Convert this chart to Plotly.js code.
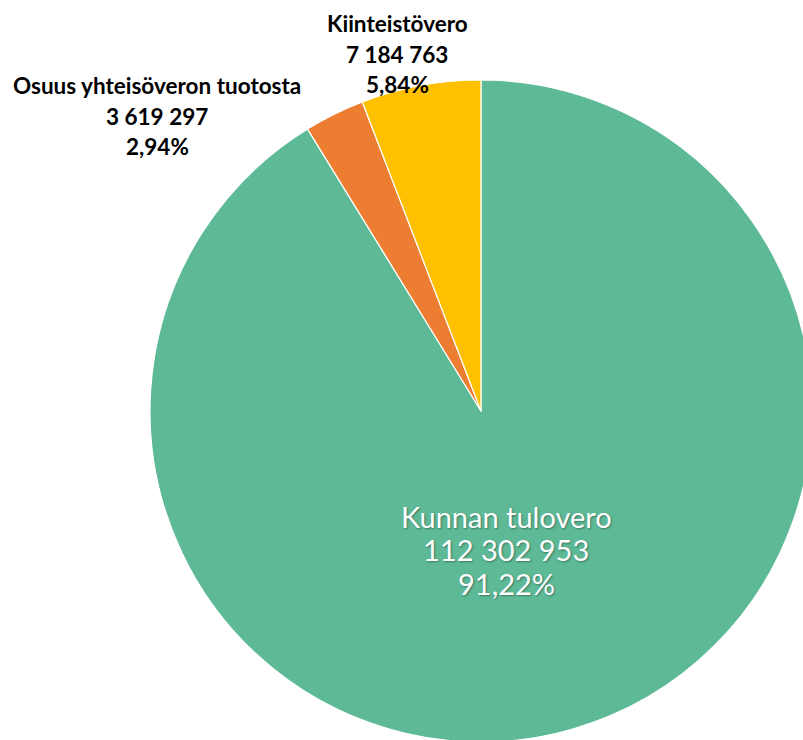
<!DOCTYPE html>
<html>
<head>
<meta charset="utf-8">
<script src="https://cdn.plot.ly/plotly-3.0.1.min.js"></script>
<style>
html,body{margin:0;padding:0;overflow:hidden;background:#fff;width:803px;height:740px;}
#chart{width:962px;height:822px;}
</style>
</head>
<body>
<div id="chart"></div>
<script>
// Data
const categories = ["Kunnan tulovero", "Osuus yhteisöveron tuotosta", "Kiinteistövero"];
const values = [112302953, 3619297, 7184763];
const valueLabels = ["112 302 953", "3 619 297", "7 184 763"];
const percentLabels = ["91,22%", "2,94%", "5,84%"];
const colors = ["#5DB996", "#ED7D31", "#FFC000"];

// Layout geometry (pixels in the plot div)
const W = 962, H = 822;
const cx = 481, cy = 411, r = 331;
// label anchors: [x center, first line y, line spacing]
const labelPos = [
  {x: 506, y: 516, dy: 33.5, color: "#ffffff", size: 29, weight: "normal", shadow: "1px 1px 2px rgba(0,0,0,0.35)"},
  {x: 157, y: 86, dy: 30, color: "#000000", size: 22.5, weight: "bold", shadow: "none"},
  {x: 397, y: 23.5, dy: 30.5, color: "#000000", size: 22.5, weight: "bold", shadow: "none"}
];

const annotations = [];
categories.forEach((c, i) => {
  const lines = [c, valueLabels[i], percentLabels[i]];
  const p = labelPos[i];
  lines.forEach((t, j) => {
    annotations.push({
      xref: "paper", yref: "paper",
      x: p.x / W, y: 1 - (p.y + j * p.dy) / H,
      xanchor: "center", yanchor: "middle",
      text: t, showarrow: false,
      font: {family: "Lato, 'Open Sans', sans-serif", size: p.size, color: p.color, weight: p.weight, shadow: p.shadow}
    });
  });
});

const data = [{
  type: "pie",
  labels: categories,
  values: values,
  sort: false,
  direction: "clockwise",
  rotation: 0,
  marker: {colors: colors, line: {color: "#ffffff", width: 1.2}},
  textinfo: "none",
  hoverinfo: "label+value+percent",
  domain: {x: [(cx - r) / W, (cx + r) / W], y: [(H - cy - r) / H, (H - cy + r) / H]}
}];

const layout = {
  width: W, height: H,
  margin: {l: 0, r: 0, t: 0, b: 0, pad: 0},
  showlegend: false,
  paper_bgcolor: "#ffffff",
  plot_bgcolor: "#ffffff",
  annotations: annotations
};

Plotly.newPlot("chart", data, layout, {displayModeBar: false, staticPlot: true});
</script>
</body>
</html>
